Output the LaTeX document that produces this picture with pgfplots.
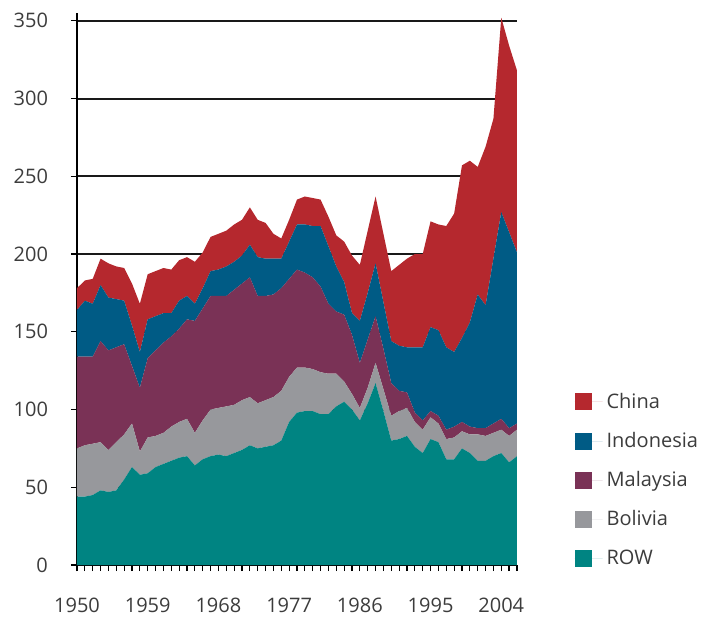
\documentclass[border=0pt]{standalone}
\usepackage{pgfplots}
\usepackage{pgfplotstable}
\pgfplotsset{compat=1.18}
\usepackage{fontspec}
\setmainfont{Open Sans}

\definecolor{cChina}{RGB}{181,40,46}
\definecolor{cIndo}{RGB}{0,91,133}
\definecolor{cMalay}{RGB}{122,50,86}
\definecolor{cBoli}{RGB}{151,152,156}
\definecolor{cROW}{RGB}{0,132,130}
\definecolor{labgray}{RGB}{60,60,60}

% tin production by country, stacked (thousand t)
\pgfplotstableread{
year row bol mal ind chi
1950 44 31 59 30 14
1951 44 33 57 36 13
1952 45 33 56 34 16
1953 48 31 65 36 17
1954 47 27 64 34 22
1955 48 31 61 31 21
1956 55 29 58 28 21
1957 63 28 37 26 27
1958 58 15 41 23 31
1959 59 23 51 25 29
1960 63 20 55 22 29
1961 65 20 58 19 29
1962 67 22 58 15 28
1963 69 23 60 18 26
1964 70 24 64 15 25
1965 64 21 72 11 27
1966 68 25 72 13 23
1967 70 30 73 16 22
1968 71 30 72 17 23
1969 70 32 71 19 23
1970 72 31 74 18 24
1971 74 32 75 18 23
1972 77 31 77 21 24
1973 75 29 69 25 24
1974 76 30 67 24 23
1975 77 31 66 23 16
1976 80 32 66 19 13
1977 92 29 63 24 14
1978 98 29 63 29 16
1979 99 28 61 31 18
1980 99 27 59 33 18
1981 97 27 55 39 17
1982 97 26 45 37 19
1983 102 21 40 29 20
1984 105 13 43 21 26
1985 100 10 38 14 37
1986 93 8 29 27 36
1987 104 10 31 30 40
1988 117 13 30 34 43
1989 99 14 26 30 44
1990 80 16 21 27 45
1991 81 18 13 29 52
1992 83 18 10 29 57
1993 76 16 6 42 60
1994 72 15 6 47 60
1995 81 14 4 54 68
1996 79 12 5 55 68
1997 68 13 6 53 78
1998 68 14 7 48 89
1999 75 11 6 54 111
2000 72 12 5 67 104
2001 67 17 4 86 82
2002 67 16 5 79 102
2003 70 15 6 106 90
2004 72 15 7 133 125
2005 66 17 5 126 120
2006 70 17 4 110 117
}\tindata

\begin{document}
\begin{tikzpicture}
\begin{axis}[
  at={(0,0)}, anchor=south west,
  width=220pt, height=276pt, scale only axis,
  xmin=1950, xmax=2006, ymin=0, ymax=355,
  axis lines=left,
  axis line style={-, black, line width=0.8pt},
  xtick={1950,1959,...,2004},
  minor xtick={1950,...,2006},
  ytick={0,50,...,350},
  tick align=outside,
  major tick length=3pt, minor tick length=3pt,
  tick style={black, line width=0.6pt},
  ymajorgrids,
  major grid style={black!90, line width=1pt},
  /pgf/number format/assume math mode=true,
  /pgf/number format/1000 sep={},
  tick label style={text=labgray, font=\fontsize{10}{12}\selectfont},
  yticklabel style={xshift=-8pt},
  xticklabel style={yshift=-10pt},
  stack plots=y,
  reverse legend,
  legend cell align=left,
  legend image code/.code={
    \fill[#1] (0pt,-4.25pt) rectangle (8.5pt,4.25pt);
    \path (0pt,0pt) -- (14pt,0pt);
  },
  legend style={draw=none, fill=none, at={(rel axis cs:1.13,0.154)}, anchor=west,
    font=\fontsize{10}{12}\selectfont, text=labgray, row sep=6.5pt, inner xsep=0pt},
]
\addplot[fill=cROW, draw=none] table[x=year, y=row]{\tindata} \closedcycle;
\addplot[fill=cBoli, draw=none] table[x=year, y=bol]{\tindata} \closedcycle;
\addplot[fill=cMalay, draw=none] table[x=year, y=mal]{\tindata} \closedcycle;
\addplot[fill=cIndo, draw=none] table[x=year, y=ind]{\tindata} \closedcycle;
\addplot[fill=cChina, draw=none] table[x=year, y=chi]{\tindata} \closedcycle;
\legend{ROW,Bolivia,Malaysia,Indonesia,China}
\end{axis}
\pgfresetboundingbox
\path (-38.5pt,-28.5pt) rectangle (312.5pt,282.5pt);
\end{tikzpicture}
\end{document}
